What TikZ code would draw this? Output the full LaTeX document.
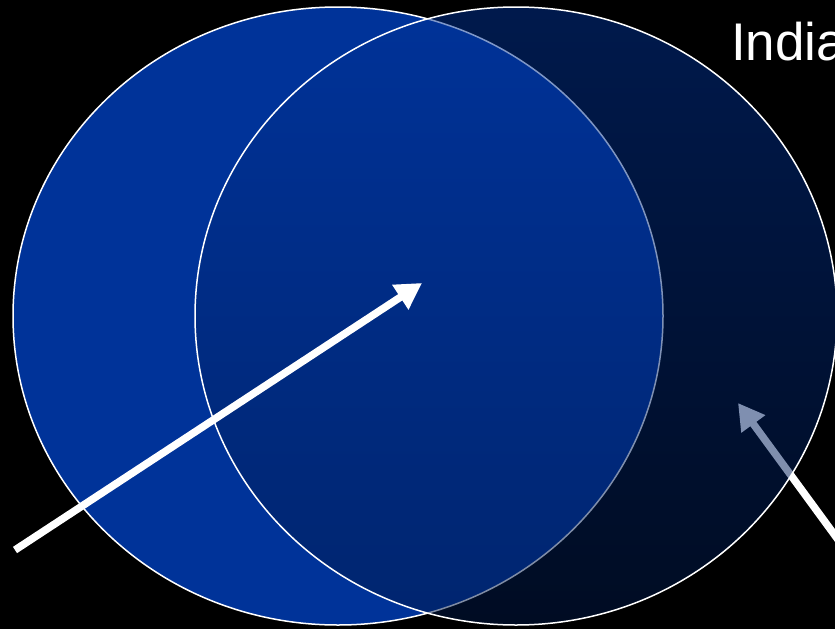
\documentclass[tikz,border=0pt]{standalone}
\usepackage{fontspec}
\setmainfont{Liberation Sans}
\usetikzlibrary{arrows.meta}
\definecolor{Royal}{HTML}{003399}
\definecolor{Navy}{HTML}{001846}
\definecolor{Night}{HTML}{000000}

\begin{document}
\begin{tikzpicture}[
      x=1pt,y=-1pt,
      rim/.style={draw=white,line width=1.5pt},
      pointer/.style={-{Triangle[length=26pt,width=28pt]},line width=7.5pt,color=white}
    ]
      \fill[Night] (0,0) rectangle (835,629);
      \clip (0,0) rectangle (835,629);
      \coordinate (rightTail) at (850,556);
      \coordinate (rightTip) at (738,403);
      \coordinate (leftTail) at (15,550);
      \coordinate (leftTip) at (422,283);
      % arrow behind the right set
      \draw[pointer] (rightTail) -- (rightTip);
      % left set
      \fill[Royal] (338,316) ellipse [x radius=325,y radius=309];
      \draw[rim] (338,316) ellipse [x radius=325,y radius=309];
      % right set, see-through
      \shade[top color=Royal,bottom color=Navy,fill opacity=0.5] (516,316) ellipse [x radius=321,y radius=309];
      \draw[rim] (516,316) ellipse [x radius=321,y radius=309];
      \draw[pointer] (leftTail) -- (leftTip);
      \node[anchor=base west,inner sep=0pt,text=white,font=\fontsize{53}{60}\selectfont] (title) at (731,60) {India};
    \end{tikzpicture}
\end{document}
